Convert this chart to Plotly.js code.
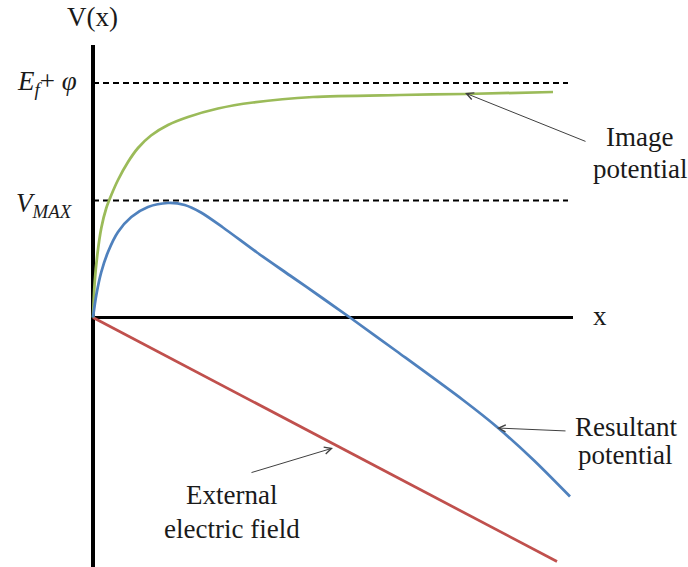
<!DOCTYPE html>
<html>
<head>
<meta charset="utf-8">
<script src="https://cdn.plot.ly/plotly-3.0.1.min.js"></script>
<style>html,body{margin:0;padding:0;background:#fff;}#chart{width:688px;height:567px;}</style>
</head>
<body>
<div id="chart"></div>
<script>
// Schematic values (arbitrary units)
const imageX = [0, 1.7, 4.3, 8.3, 13.3, 18.3, 25, 35, 45, 58, 75, 95, 125, 160, 220, 307, 372, 460];
const imageY = [0, 35.5, 62.5, 89.5, 109.5, 122.5, 137.5, 155.5, 169.5, 182, 192.5, 200.5, 209, 215, 220.5, 222.5, 223.5, 225.5];

const resultX = [0, 3.3, 8.3, 15, 25, 38.3, 55, 75, 91.7, 108, 130, 164, 197, 230, 257, 304, 370, 404, 440, 477];
const resultY = [0, 22.5, 45.5, 65.5, 85.5, 100.5, 110.5, 114.5, 112.5, 105, 90, 65, 42, 19, 0, -34, -82.5, -109.5, -142, -179];

const fieldX = [0, 464];
const fieldY = [0, -244];

const levelNames = ["<i>E<sub>f</sub></i>+ <i>φ</i>", "<i>V<sub>MAX</sub></i>"];
const levelValues = [234.5, 117];
const levelEndX = [0, 475];

const axisTitles = ["V(x)", "x"];

const labelTexts = ["Image", "potential", "Resultant", "potential", "External", "electric field"];

const arrowHeadX = [372, 404, 240];
const arrowHeadY = [224.5, -110.5, -130.5];
const arrowTailX = [494, 474, 157];
const arrowTailY = [175.5, -113.5, -155.5];

// label placement (paper fractions) – layout only
const labelPosX = [1.139, 1.139, 1.110, 1.108, 0.2925, 0.2925];
const labelPosY = [0.8238, 0.7625, 0.2682, 0.2146, 0.1379, 0.0728];

const FONT = "Liberation Serif, Times New Roman, serif";
const TXT = "#1a1a1a";
const FS = 27;

const traces = [];
levelValues.forEach(v => {
  traces.push({x: levelEndX, y: [v, v], mode: "lines", type: "scatter",
    line: {color: "#000", width: 2, dash: "6px,4px"}, hoverinfo: "skip"});
});
traces.push({x: fieldX, y: fieldY, mode: "lines", type: "scatter",
  line: {color: "#C0504D", width: 2.75}});
traces.push({x: imageX, y: imageY, mode: "lines", type: "scatter",
  line: {color: "#9BBB59", width: 2.75, shape: "spline", smoothing: 0.8}});
traces.push({x: resultX, y: resultY, mode: "lines", type: "scatter",
  line: {color: "#4F81BD", width: 2.75, shape: "spline", smoothing: 0.8}});

const annotations = [];
const txt = (t, x, y, xa) => ({x: x, y: y, xref: "paper", yref: "paper", text: t, showarrow: false,
  xanchor: xa, yanchor: "middle", font: {family: FONT, size: FS, color: TXT}});
annotations.push(txt(axisTitles[0], 0.0031, 1.0536, "center"));
annotations.push(txt(axisTitles[1], 1.056, 0.481, "center"));
annotations.push(txt(levelNames[0], -0.025, 0.927, "right"));
annotations.push(txt(levelNames[1], -0.0332, 0.6935, "right"));
labelTexts.forEach((t, i) => annotations.push(txt(t, labelPosX[i], labelPosY[i], "center")));
arrowHeadX.forEach((hx, i) => {
  annotations.push({x: hx, y: arrowHeadY[i], xref: "x", yref: "y", text: "",
    showarrow: true, axref: "x", ayref: "y", ax: arrowTailX[i], ay: arrowTailY[i],
    arrowhead: 5, arrowsize: 1.4, arrowwidth: 1, arrowcolor: "#404040", standoff: 0, startstandoff: 0});
});

const layout = {
  width: 688, height: 567,
  margin: {l: 91, r: 115, t: 45, b: 0},
  paper_bgcolor: "#fff", plot_bgcolor: "#fff",
  showlegend: false,
  xaxis: {range: [-2, 480], showgrid: false, showticklabels: false, ticks: "",
    zeroline: true, zerolinecolor: "#000", zerolinewidth: 4, showline: false, fixedrange: true},
  yaxis: {range: [-249.5, 272.5], showgrid: false, showticklabels: false, ticks: "",
    zeroline: true, zerolinecolor: "#000", zerolinewidth: 3.5, showline: false, fixedrange: true},
  annotations: annotations
};

Plotly.newPlot("chart", traces, layout, {staticPlot: true, displayModeBar: false});
</script>
</body>
</html>
